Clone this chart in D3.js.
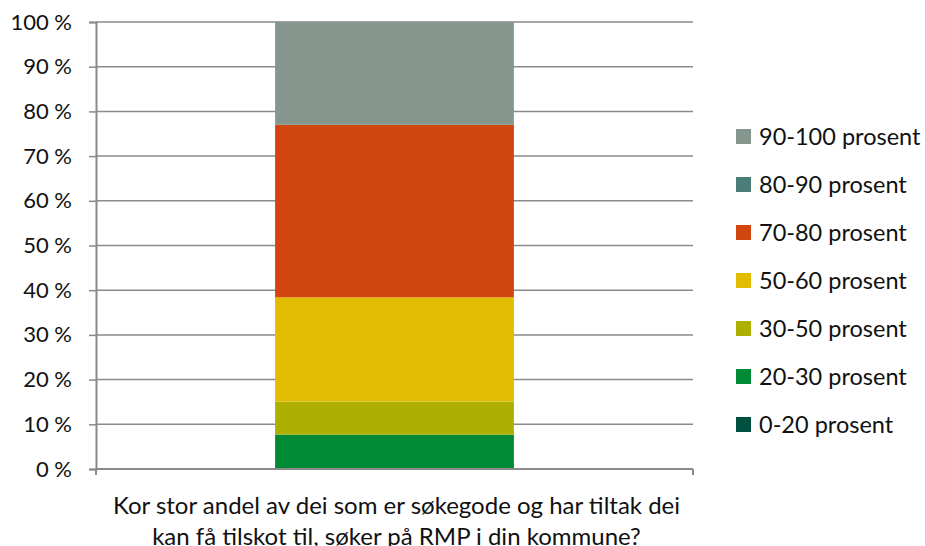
<!doctype html>
<html>
<head>
<meta charset="utf-8">
<script src="https://cdn.jsdelivr.net/npm/d3@7"></script>
<style>
  body { margin: 0; background: #fff; }
  text { font-family: Lato, "Open Sans", sans-serif; fill: #111; }
</style>
</head>
<body>
<script>
    // one stacked bar, share of respondents per answer group
    var category = 'Kor stor andel av dei som er søkegode og har tiltak dei kan få tilskot til, søker på RMP i din kommune?';
    var groups = ['0-20 prosent', '20-30 prosent', '30-50 prosent', '50-60 prosent', '70-80 prosent', '80-90 prosent', '90-100 prosent'];
    var values = [0, 7.7, 7.4, 23.3, 38.6, 0, 23.0];
    var colors = ['#00503F', '#008A36', '#ADB000', '#E1BC00', '#D0460E', '#4A7D78', '#85968F'];
    var yTicks = [0, 10, 20, 30, 40, 50, 60, 70, 80, 90, 100];

    var width = 925, height = 546;
    var m = {left: 96, right: 693, top: 22, bottom: 469};

    var svg = d3.select('body').append('svg')
        .attr('width', width)
        .attr('height', height);

    var y = d3.scaleLinear().domain([0, 100]).range([m.bottom, m.top]);
    var x = d3.scaleBand().domain([category]).range([m.left, m.right]).paddingInner(0.6).paddingOuter(0.3);

    // gridlines
    svg.append('g').selectAll('line').data(yTicks.slice(1)).enter().append('line')
        .attr('x1', m.left).attr('x2', m.right)
        .attr('y1', function(d){ return y(d); })
        .attr('y2', function(d){ return y(d); })
        .attr('stroke', '#8a8a8a').attr('stroke-width', 1.5);

    // stacked segments
    var stack = [];
    var acc = 0;
    values.forEach(function(v, i){
        stack.push({name: groups[i], y0: acc, y1: acc + v, color: colors[i]});
        acc += v;
    });
    svg.append('g').selectAll('rect').data(stack.filter(function(d){ return d.y1 > d.y0; })).enter().append('rect')
        .attr('x', x(category))
        .attr('width', x.bandwidth())
        .attr('y', function(d){ return y(d.y1); })
        .attr('height', function(d){ return y(d.y0) - y(d.y1); })
        .attr('fill', function(d){ return d.color; });

    // y axis
    var yAxis = d3.axisLeft(y).tickValues(yTicks).tickSize(7).tickPadding(17)
        .tickFormat(function(d){ return d + ' %'; });
    var gy = svg.append('g').attr('transform', 'translate(' + m.left + ',0)').call(yAxis);
    gy.select('.domain').attr('stroke', '#8a8a8a').attr('stroke-width', 2);
    gy.selectAll('.tick line').attr('stroke', '#8a8a8a').attr('stroke-width', 1.5);
    gy.selectAll('.tick text').style('font-size', '22px').attr('fill', '#111');

    // x axis
    var gx = svg.append('g').attr('transform', 'translate(0,' + m.bottom + ')');
    gx.append('line').attr('x1', m.left).attr('x2', m.right)
        .attr('stroke', '#8a8a8a').attr('stroke-width', 2);
    gx.selectAll('.edge').data([m.left, m.right]).enter().append('line')
        .attr('x1', function(d){ return d; }).attr('x2', function(d){ return d; })
        .attr('y1', 0).attr('y2', 6)
        .attr('stroke', '#8a8a8a').attr('stroke-width', 2);

    var lines = ['Kor stor andel av dei som er søkegode og har tiltak dei', 'kan få tilskot til, søker på RMP i din kommune?'];
    svg.append('g').selectAll('text').data(lines).enter().append('text')
        .attr('x', (m.left + m.right) / 2 + 2)
        .attr('y', function(d, i){ return 514 + i * 31; })
        .attr('text-anchor', 'middle')
        .style('font-size', '24px')
        .text(function(d){ return d; });

    // legend, top entry is the last group
    var legend = svg.append('g').selectAll('g').data(groups.slice().reverse()).enter().append('g')
        .attr('transform', function(d, i){ return 'translate(736,' + (129 + i * 48) + ')'; });
    legend.append('rect').attr('width', 15).attr('height', 15)
        .attr('fill', function(d){ return colors[groups.indexOf(d)]; });
    legend.append('text').attr('x', 23).attr('y', 16)
        .style('font-size', '23.5px')
        .text(function(d){ return d; });
</script>
</body>
</html>
